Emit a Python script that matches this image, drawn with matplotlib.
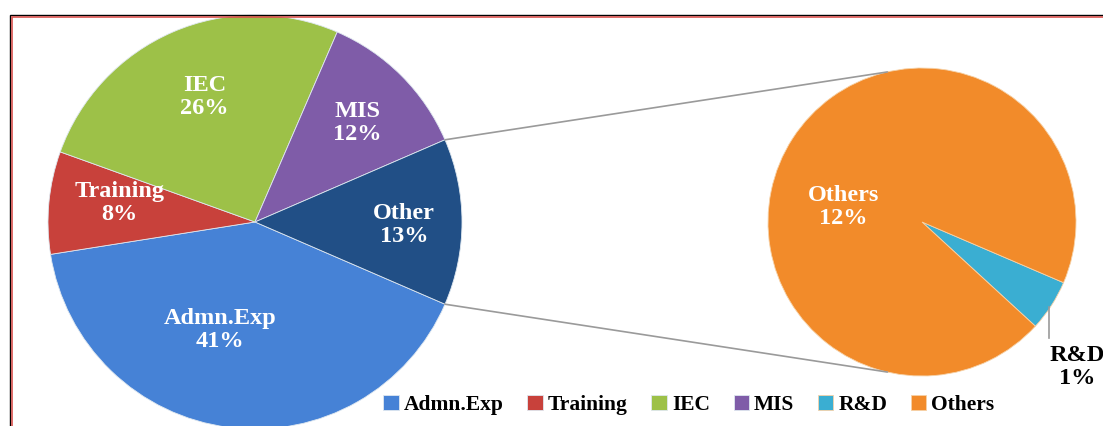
import numpy as np
import matplotlib.pyplot as plt
from matplotlib.patches import Rectangle, ConnectionPatch

# main pie
main_names = ['Admn.Exp', 'Training', 'IEC', 'MIS', 'Other']
main_vals = [41, 8, 26, 12, 13]
main_cols = ['#4682D6', '#C8413B', '#9DC148', '#7F5CA8', '#214F86']

# secondary pie (split of "Other")
sub_names = ['R&D', 'Others']
sub_vals = [0.7, 12.3]
sub_cols = ['#3AAED2', '#F28B2A']

W, H = 1103, 426
fig = plt.figure(figsize=(W / 100, H / 100), dpi=100)

serif = ['Liberation Serif', 'DejaVu Serif']


def px_axes(cx, cy, r):
    return fig.add_axes([(cx - r) / W, (H - cy - r) / H, 2 * r / W, 2 * r / H])


ax0 = px_axes(255, 222, 207)
ax1 = px_axes(922, 222, 154)

w0, _ = ax0.pie(main_vals, colors=main_cols, startangle=-23.4, counterclock=False,
                radius=1, wedgeprops=dict(edgecolor='#dfe8f0', linewidth=0.6))
w1, _ = ax1.pie(sub_vals, colors=sub_cols, startangle=-23.2, counterclock=False,
                radius=1, wedgeprops=dict(edgecolor='#f6d2a8', linewidth=0.6))

for ax in (ax0, ax1):
    ax.set_xlim(-1, 1)
    ax.set_ylim(-1, 1)
    ax.set_aspect('equal')
    ax.axis('off')

# labels inside main pie (radius fraction, angle)
spots = [(0.55, -108), (0.66, 172), (0.65, 112), (0.69, 44), (0.72, -1)]
tot = sum(main_vals)
for name, v, (f, ang) in zip(main_names, main_vals, spots):
    a = np.deg2rad(ang)
    ax0.text(f * np.cos(a), f * np.sin(a), '%s\n%d%%' % (name, round(100 * v / tot)),
             ha='center', va='center', color='white', fontsize=17.5, fontweight='bold',
             family=serif, linespacing=1.12)

# labels for secondary pie
a = np.deg2rad(169)
ax1.text(0.52 * np.cos(a), 0.52 * np.sin(a), 'Others\n%d%%' % round(sub_vals[1]),
         ha='center', va='center', color='white', fontsize=17.5, fontweight='bold',
         family=serif, linespacing=1.12)
fig.text(1077 / W, 1 - 367 / H, 'R&D\n%d%%' % round(sub_vals[0]), ha='center', va='center',
         color='black', fontsize=17.5, fontweight='bold', family=serif, linespacing=1.12)
fig.add_artist(plt.Line2D([1049 / W, 1049 / W], [1 - 307 / H, 1 - 338 / H],
                          color='#999999', lw=1.2))

# connector lines
for a0, a1 in ((23.4, 103), (-23.4, -103)):
    p0 = (np.cos(np.deg2rad(a0)), np.sin(np.deg2rad(a0)))
    p1 = (np.cos(np.deg2rad(a1)), np.sin(np.deg2rad(a1)))
    con = ConnectionPatch(xyA=p0, coordsA=ax0.transData, xyB=p1, coordsB=ax1.transData,
                          color='#9a9a9a', lw=1.2)
    fig.add_artist(con)

# frame
fig.add_artist(Rectangle((10 / W, -0.1), 1.2, 1 - 14.5 / H + 0.1, transform=fig.transFigure,
                         fill=False, edgecolor='black', lw=1.0))
fig.add_artist(Rectangle((11.5 / W, -0.1), 1.2, 1 - 16.5 / H + 0.1, transform=fig.transFigure,
                         fill=False, edgecolor='#d9534f', lw=1.2))

# legend
order = [0, 1, 2, 3]
handles = [w0[i] for i in order] + [w1[0], w1[1]]
labels = [main_names[i] for i in order] + sub_names
fig.legend(handles, labels, loc='center', bbox_to_anchor=(689 / W, 1 - 405 / H), ncol=6,
           frameon=False, handlelength=0.7, handleheight=0.7, handletextpad=0.25,
           columnspacing=1.1, prop=dict(family=serif, weight='bold', size=15.5))

fig.savefig('out.png', dpi=100)
